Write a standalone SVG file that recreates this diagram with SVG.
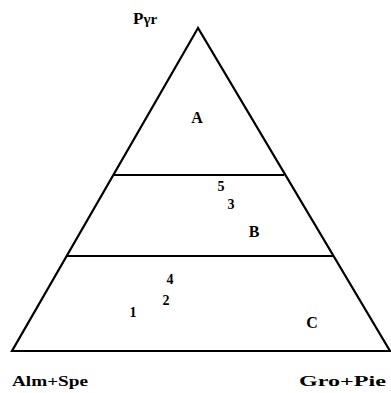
<svg xmlns="http://www.w3.org/2000/svg" width="391" height="393" viewBox="0 0 391 393">
<style>
.ln{stroke:#000;stroke-width:2.2;fill:none;stroke-linejoin:miter}
.t{font-family:"Liberation Serif",serif;font-weight:bold;fill:#000}
</style>
<rect width="391" height="393" fill="#fff"/>
<g id="connectors">
<polygon class="ln" points="198,28 12,351 390,351"/>
<line class="ln" x1="114" y1="175" x2="284" y2="175"/>
<line class="ln" x1="66" y1="256" x2="333" y2="256"/>
</g>
<g id="apex"><text class="t" x="133" y="24" font-size="17">P<tspan font-size="15">γr</tspan></text></g>
<g id="regionA"><text class="t" x="197" y="123" font-size="16" text-anchor="middle">A</text></g>
<g id="regionB"><text class="t" x="254" y="237" font-size="16" text-anchor="middle">B</text></g>
<g id="regionC"><text class="t" x="312" y="328" font-size="16" text-anchor="middle">C</text></g>
<g id="p5"><text class="t" x="221" y="191" font-size="14" text-anchor="middle">5</text></g>
<g id="p3"><text class="t" x="231" y="209" font-size="14" text-anchor="middle">3</text></g>
<g id="p4"><text class="t" x="170" y="284" font-size="14" text-anchor="middle">4</text></g>
<g id="p2"><text class="t" x="166" y="305" font-size="14" text-anchor="middle">2</text></g>
<g id="p1"><text class="t" x="133" y="317" font-size="14" text-anchor="middle">1</text></g>
<g id="left"><text class="t" x="12" y="386" font-size="15" textLength="76" lengthAdjust="spacingAndGlyphs">Alm+Spe</text></g>
<g id="right"><text class="t" x="299" y="386" font-size="15" textLength="87" lengthAdjust="spacingAndGlyphs">Gro+Pie</text></g>
</svg>
